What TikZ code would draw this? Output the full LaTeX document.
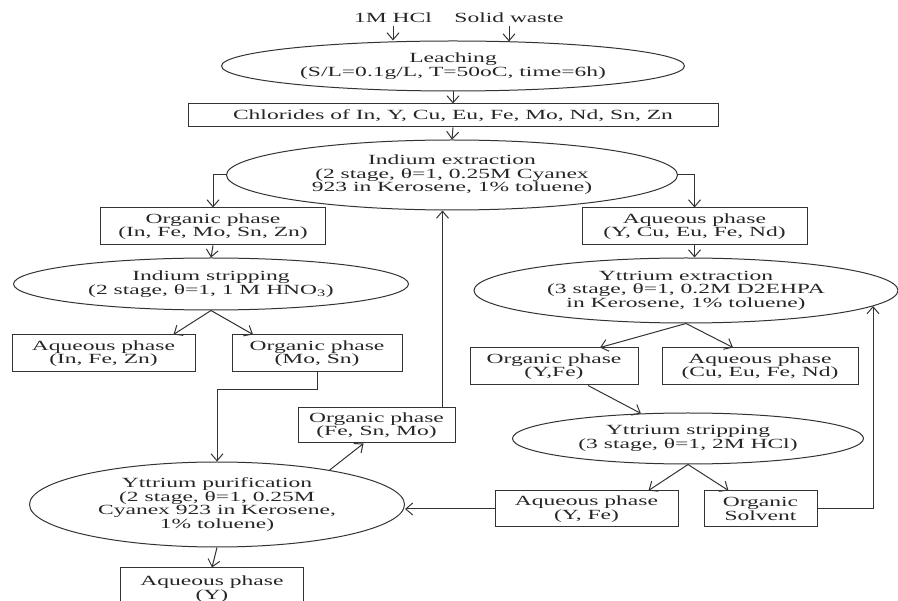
\documentclass[tikz,border=0pt]{standalone}
\usepackage{fontspec}
\setmainfont[FakeStretch=1.68]{Liberation Serif}
\usetikzlibrary{shapes.geometric,arrows.meta,calc}
\begin{document}
\begin{tikzpicture}[x=1pt,y=-1pt,
  every node/.style={text=black!85,font={\fontsize{14pt}{13.5pt}\selectfont},align=center},
  box/.style={draw=black!80,line width=1pt,rectangle,inner sep=0pt},
  oval/.style={draw=black!80,line width=1pt,ellipse,inner sep=0pt},
  conn/.style={draw=black!80,line width=1pt,-{Straight Barb[length=7pt,width=12pt]}},
  plain/.style={draw=black!80,line width=1pt}]
\useasboundingbox (0,0) rectangle (898,601);
\node (hcl) at (393,18) {1M HCl};
\node (sw) at (509,18) {Solid waste};
\node[oval,minimum width=463pt,minimum height=50pt] (leach) at (453,66) {Leaching\\(S/L=0.1g/L, T=50oC, time=6h)};
\node[box,minimum width=530pt,minimum height=23pt] (chl) at (453,115.5) {Chlorides of In, Y, Cu, Eu, Fe, Mo, Nd, Sn, Zn};
\node[oval,minimum width=451pt,minimum height=70pt] (inext) at (452,175) {Indium extraction\\(2 stage, θ=1, 0.25M Cyanex\\923 in Kerosene, 1\% toluene)};
\node[box,minimum width=225pt,minimum height=37pt] (orgA) at (213,226.5) {Organic phase\\(In, Fe, Mo, Sn, Zn)};
\node[oval,minimum width=395pt,minimum height=52pt] (istrip) at (211,284) {Indium stripping\\(2 stage, θ=1, 1 M HNO\textsubscript{3})};
\node[box,minimum width=183pt,minimum height=37pt] (aqB) at (103.5,353.5) {Aqueous phase\\(In, Fe, Zn)};
\node[box,minimum width=170pt,minimum height=37pt] (orgB) at (317,353.5) {Organic phase\\(Mo, Sn)};
\node[oval,minimum width=375pt,minimum height=85pt] (ypur) at (217,504.5) {Yttrium purification\\(2 stage, θ=1, 0.25M\\Cyanex 923 in Kerosene,\\1\% toluene)};
\node[box,minimum width=183pt,minimum height=42pt] (aqY) at (212,589) {Aqueous phase\\(Y)};
\node[box,minimum width=157pt,minimum height=35pt] (orgC) at (376.5,425.5) {Organic phase\\(Fe, Sn, Mo)};
\node[box,minimum width=225pt,minimum height=37pt] (aqA) at (694.5,226.5) {Aqueous phase\\(Y, Cu, Eu, Fe, Nd)};
\node[oval,minimum width=424pt,minimum height=65pt] (yext) at (686,290.5) {Yttrium extraction\\(3 stage, θ=1, 0.2M D2EHPA\\in Kerosene, 1\% toluene)};
\node[box,minimum width=168pt,minimum height=37pt] (orgD) at (554,366.5) {Organic phase\\(Y,Fe)};
\node[box,minimum width=196pt,minimum height=37pt] (aqD) at (760,366.5) {Aqueous phase\\(Cu, Eu, Fe, Nd)};
\node[oval,minimum width=351pt,minimum height=51pt] (ystrip) at (688,438.5) {Yttrium stripping\\(3 stage, θ=1, 2M HCl)};
\node[box,minimum width=183pt,minimum height=36pt] (yaqE) at (586.5,509) {Aqueous phase\\(Y, Fe)};
\node[box,minimum width=113pt,minimum height=36pt] (osE) at (760.5,509) {Organic\\Solvent};
\coordinate (yret) at (873,306);
\coordinate (ret) at ($(orgC.north east)+(-13,0)$);
% connectors
\draw[conn] (hcl) -- (hcl |- leach.north);
\draw[conn] (sw) -- ($(sw |- leach.north)+(0,1)$);
\draw[conn] (leach.south) -- (chl.north);
\draw[conn] (chl.south) -- (inext.north);
\draw[conn] (inext.west) -| (orgA.north);
\draw[conn] (inext.east) -| (aqA.north);
\draw[conn] (orgA.south) -- (istrip.north);
\draw[conn] (istrip.south) -- ($(aqB.north)+(70,0)$);
\draw[conn] (istrip.south) -- ($(orgB.north)+(-64,0)$);
\draw[conn] (orgB.south) -- ++(0,17) -| (ypur.north);
\draw[conn] (ypur.17) -- ($(orgC.south)+(-13,0)$);
\draw[conn] (ret) -- (ret |- inext.south);
\draw[conn] (ypur.south) -- (aqY.north);
\draw[conn] (aqA.south) -- (aqA.south |- yext.north);
\draw[conn] (yext.south) -- ($(orgD.north)+(46,0)$);
\draw[conn] (yext.south) -- ($(aqD.north)+(-27,0)$);
\draw[conn] ($(orgD.south)+(34,0)$) -- (ystrip.152);
\draw[conn] (ystrip.south) -- ($(yaqE.north)+(62,0)$);
\draw[conn] (ystrip.south) -- ($(osE.north)+(-32,0)$);
\draw[conn] (osE.east) -| (yret);
\draw[conn] (yaqE.west) -- (yaqE.west -| ypur.east);
\end{tikzpicture}
\end{document}
